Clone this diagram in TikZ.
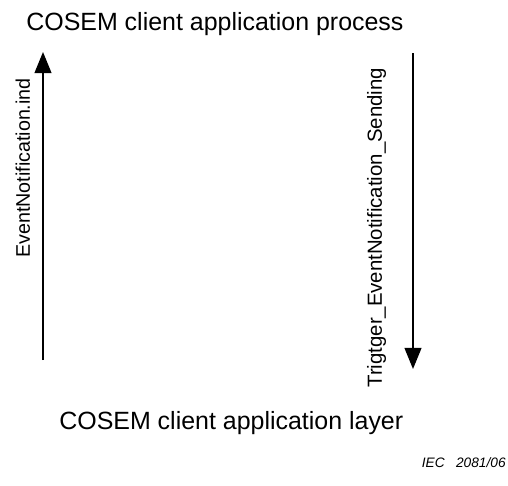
\documentclass[tikz,border=0pt]{standalone}
\usepackage{fontspec}
\setmainfont{Liberation Sans}
\usepackage{tikz}
\usetikzlibrary{arrows.meta}
\tikzstyle{layertext}=[inner sep=0pt,font=\fontsize{14.2}{17}\selectfont]
\tikzstyle{primtext}=[inner sep=0pt,rotate=90,font=\fontsize{11.6}{14}\selectfont]

\begin{document}
\begin{tikzpicture}[x=0.02cm,y=0.02cm]
    \tikzstyle{prim}=[line width=0.85pt,-{Triangle[length=12pt,width=9.6pt]}]
    \useasboundingbox (0,0) rectangle (508,485);
    \node[layertext,anchor=base west] (process) at (26,455) {COSEM client application process};
    \node[layertext,anchor=base west] (layer) at (59,56) {COSEM client application layer};
    \coordinate (indfrom) at (43,125);
    \coordinate (indto) at (43,433);
    \coordinate (sendfrom) at (413,432);
    \coordinate (sendto) at (413,116);
    \draw[prim] (indfrom) -- (indto);
    \draw[prim] (sendfrom) -- (sendto);
    \node[primtext,anchor=base west,font=\fontsize{11.2}{14}\selectfont] (ind) at (30,227) {EventNotification.ind};
    \node[primtext,anchor=base west] (send) at (382,97) {Trigtger\_EventNotification\_Sending};
    \node[inner sep=0pt,anchor=base east,font=\fontsize{7.8}{9}\selectfont\itshape] (iec) at (506,18) {IEC\ \ \ 2081/06};
\end{tikzpicture}
\end{document}
